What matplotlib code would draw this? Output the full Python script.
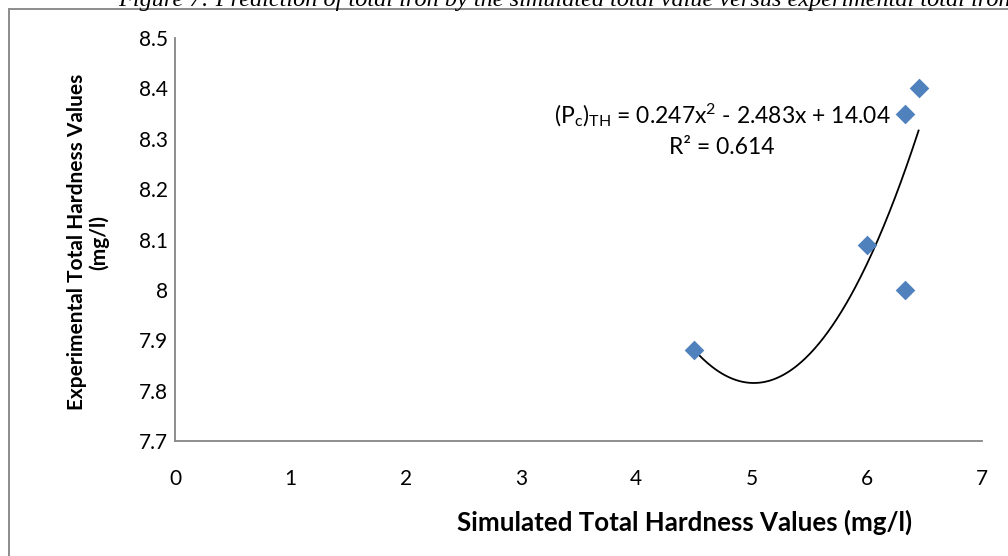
import numpy as np
import matplotlib
matplotlib.use("Agg")
import matplotlib.pyplot as plt
from matplotlib.patches import Rectangle

# Values
simulated = [4.5, 6.0, 6.33, 6.33, 6.45]
experimental = [7.88, 8.09, 8.0, 8.35, 8.4]
x_ticks = [0, 1, 2, 3, 4, 5, 6, 7]
y_ticks = [7.7, 7.8, 7.9, 8.0, 8.1, 8.2, 8.3, 8.4, 8.5]
y_tick_labels = ["7.7", "7.8", "7.9", "8", "8.1", "8.2", "8.3", "8.4", "8.5"]
caption = "Figure 7: Prediction of total iron by the simulated total value versus experimental total iron"
equation = r"(P$_\mathrm{c}$)$_\mathrm{TH}$ = 0.247x$^\mathrm{2}$ - 2.483x + 14.04"
r_squared = "R² = 0.614"

plt.rcParams['font.family'] = ['Lato', 'DejaVu Sans']
plt.rcParams['mathtext.fontset'] = 'custom'
plt.rcParams['mathtext.rm'] = 'Lato'
plt.rcParams['mathtext.it'] = 'Lato:italic'
plt.rcParams['mathtext.bf'] = 'Lato:bold'

W, H = 1008, 556
fig = plt.figure(figsize=(W / 100, H / 100), dpi=100)
ax = fig.add_axes([175 / W, 1 - 441 / H, (982 - 175) / W, (441 - 38) / H])

# outer chart border (only top and left inside the image)
fig.patches.append(Rectangle((9 / W, -0.1), 1.2, 1 - 9 / H + 0.1, transform=fig.transFigure,
                             fill=False, edgecolor='#8c8c8c', linewidth=1.4))

# caption cut off at the top
fig.text(118 / W, 1 - 6 / H, caption, family='Liberation Serif', style='italic',
         fontsize=17.5, ha='left', va='baseline')

ax.scatter(simulated, experimental, marker='D', s=10 ** 2, color='#4F81BD', zorder=3, linewidths=0)

# second-order polynomial trendline over the data range
coef = np.polyfit(simulated, experimental, 2)
xs = np.linspace(min(simulated), max(simulated), 200)
ax.plot(xs, np.polyval(coef, xs), color='black', linewidth=1.3, zorder=2)

ax.set_xlim(0, 7)
ax.set_ylim(7.7, 8.5)
ax.set_xticks(x_ticks)
ax.set_yticks(y_ticks)
ax.set_yticklabels(y_tick_labels)
ax.tick_params(length=0, labelsize=15)
ax.tick_params(axis='x', pad=20)
ax.tick_params(axis='y', pad=5)
for side in ['top', 'right']:
    ax.spines[side].set_visible(False)
for side in ['left', 'bottom']:
    ax.spines[side].set_color('#868686')
    ax.spines[side].set_linewidth(1.3)

fig.text(685 / W, 1 - 522 / H, "Simulated Total Hardness Values (mg/l)", fontsize=18.6,
         fontweight='bold', ha='center', va='center')
fig.text(88 / W, 1 - 242 / H, "Experimental Total Hardness Values\n(mg/l)", fontsize=15,
         fontweight='bold', ha='center', va='center', rotation=90, linespacing=1.1)

fig.text(722 / W, 1 - 115 / H, equation, fontsize=16.5, ha='center', va='center')
fig.text(722 / W, 1 - 148 / H, r_squared, fontsize=16.5, ha='center', va='center')

fig.savefig("out.png", dpi=100)
